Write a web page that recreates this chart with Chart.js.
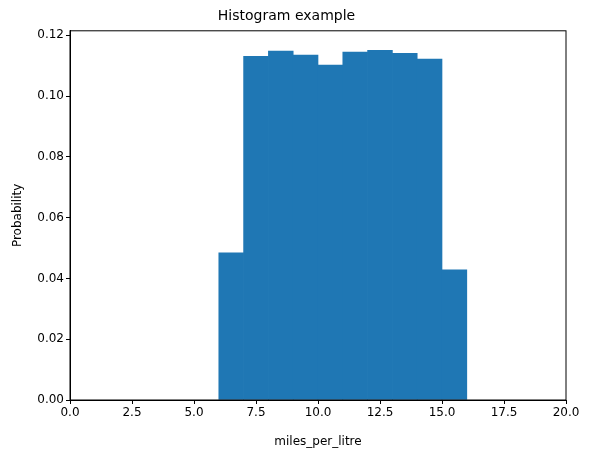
<!DOCTYPE html>
<html><head><meta charset="utf-8">
<script src="https://cdn.jsdelivr.net/npm/chart.js@4"></script>
<style>body{margin:0;background:#fff}</style>
</head><body>
<canvas id="c" width="591" height="453"></canvas>
<script>
const binStarts = [6, 7, 8, 9, 10, 11, 12, 13, 14, 15];
const probability = [0.0484, 0.1131, 0.1148, 0.1135, 0.1102, 0.1145, 0.1151, 0.1141, 0.1122, 0.0428];
const xTicks = [0, 2.5, 5, 7.5, 10, 12.5, 15, 17.5, 20];
const yTicks = [0, 0.02, 0.04, 0.06, 0.08, 0.10, 0.12];

Chart.defaults.font.family = "DejaVu Sans";
Chart.defaults.color = "#000";

// 枠線を四辺に描く
const frame = {
  id: "frame",
  afterDraw(chart) {
    const a = chart.chartArea, g = chart.ctx;
    g.save();
    g.strokeStyle = "#000";
    g.lineWidth = 1;
    g.strokeRect(a.left, a.top, a.right - a.left, a.bottom - a.top);
    g.restore();
  }
};

new Chart(document.getElementById("c"), {
  type: "bar",
  data: {
    datasets: [{
      data: binStarts.map((s, i) => ({ x: s + 0.5, y: probability[i] })),
      backgroundColor: "#1f77b4",
      barPercentage: 1,
      categoryPercentage: 1,
      borderWidth: 0
    }]
  },
  options: {
    responsive: false,
    animation: false,
    layout: { padding: { right: 25, left: 7, top: 0, bottom: 0 } },
    plugins: {
      legend: { display: false },
      tooltip: { enabled: false },
      title: { display: true, text: "Histogram example", font: { size: 14, weight: "normal" }, padding: { top: 8, bottom: 6 } }
    },
    scales: {
      x: {
        type: "linear", min: 0, max: 20, offset: false,
        afterBuildTicks: s => { s.ticks = xTicks.map(v => ({ value: v })); },
        ticks: { font: { size: 12 }, callback: v => v.toFixed(1), maxRotation: 0, padding: 2 },
        grid: { drawOnChartArea: false, tickLength: 4, color: "#000", offset: false },
        border: { color: "#000" },
        title: { display: true, text: "miles_per_litre", font: { size: 12 }, padding: { top: 0 } },
        afterFit: s => { s.height = 53; }
      },
      y: {
        min: 0, max: 0.1215,
        afterBuildTicks: s => { s.ticks = yTicks.map(v => ({ value: v })); },
        ticks: { font: { size: 12 }, callback: v => v.toFixed(2), padding: 2 },
        grid: { drawOnChartArea: false, tickLength: 4, color: "#000" },
        border: { color: "#000" },
        title: { display: true, text: "Probability", font: { size: 12 } },
        afterFit: s => { s.width = 63; }
      }
    }
  },
  plugins: [frame]
});
</script>
</body></html>
